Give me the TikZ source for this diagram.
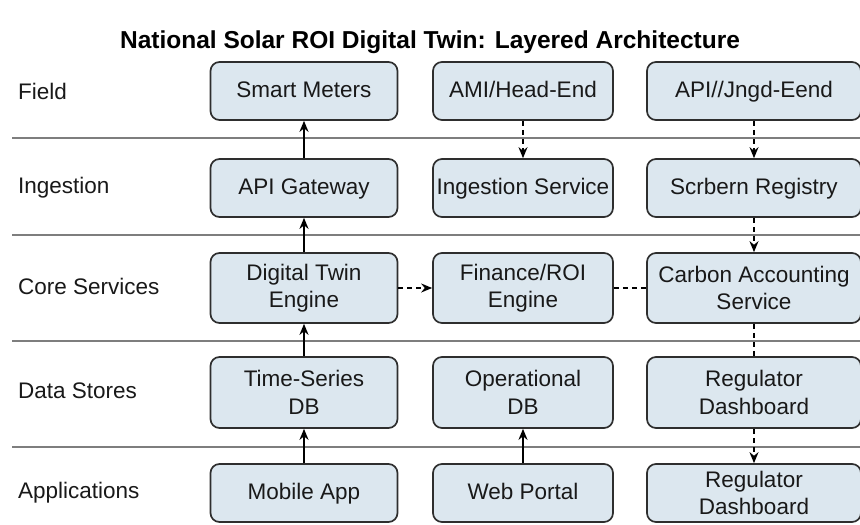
\documentclass[tikz,border=0pt]{standalone}
\usepackage{fontspec}
\setmainfont{Liberation Sans}
\usetikzlibrary{arrows.meta}
\definecolor{boxfill}{HTML}{DCE7EF}
\definecolor{boxline}{HTML}{2E2E2E}
\definecolor{sepline}{HTML}{7E7E7E}
\tikzset{
  box/.style={draw=boxline, line width=1.7pt, fill=boxfill, rounded corners=9pt,
    align=center, inner sep=0pt, font=\fontsize{22.5}{27.5}\selectfont, text=black!90},
  oneline/.style={text height=16.5pt, text depth=4.5pt},
  layer/.style={anchor=west, inner sep=0pt, font=\fontsize{22.5}{26}\selectfont, text=black!90},
  sep/.style={draw=sepline, line width=1.5pt},
  solidarrow/.style={line width=1.8pt, -{Stealth[length=11pt,width=9pt]}},
  dasharrow/.style={line width=1.5pt, dash pattern=on 5pt off 4pt, -{Stealth[length=11pt,width=9pt]}},
  dashline/.style={line width=1.5pt, dash pattern=on 5pt off 4pt}
}
\begin{document}
\begin{tikzpicture}[x=1pt,y=-1pt]
\useasboundingbox (0,0) rectangle (860,525);
\clip (0,0) rectangle (860,525);
\fill[white] (0,0) rectangle (860,525);

% title
\node[font=\bfseries\fontsize{24.5}{28}\selectfont, inner sep=0pt] (title) at (430,42) {National Solar ROI Digital Twin: Layered Architecture};

% separators
\coordinate (s1a) at (12,138); \coordinate (s1b) at (860,138);
\coordinate (s2a) at (12,235); \coordinate (s2b) at (860,235);
\coordinate (s3a) at (12,341); \coordinate (s3b) at (860,341);
\coordinate (s4a) at (12,447); \coordinate (s4b) at (860,447);
\draw[sep] (s1a) -- (s1b);
\draw[sep] (s2a) -- (s2b);
\draw[sep] (s3a) -- (s3b);
\draw[sep] (s4a) -- (s4b);

% layer labels
\node[layer] (lField) at (18,91) {Field};
\node[layer] (lIng) at (18,188) {Ingestion};
\node[layer] (lCore) at (18,286) {Core Services};
\node[layer] (lData) at (18,391) {Data Stores};
\node[layer] (lApp) at (18,493) {Applications};

% Field row (62-120)
\node[box, oneline, minimum width=187, minimum height=58] (sm) at (304,91) {Smart Meters};
\node[box, oneline, minimum width=180, minimum height=58] (ami) at (523,91) {AMI/Head-End};
\node[box, oneline, minimum width=214, minimum height=58] (api) at (754,91) {API//Jngd-Eend};

% Ingestion row (159-217)
\node[box, oneline, minimum width=187, minimum height=58] (gw) at (304,188) {API Gateway};
\node[box, oneline, minimum width=180, minimum height=58] (ing) at (523,188) {Ingestion Service};
\node[box, oneline, minimum width=214, minimum height=58] (reg) at (754,188) {Scrbern Registry};

% Core row (253-323)
\node[box, minimum width=187, minimum height=70] (dt) at (304,288) {Digital Twin\\Engine};
\node[box, minimum width=180, minimum height=70] (fin) at (523,288) {Finance/ROI\\Engine};
\node[box, minimum width=214, minimum height=70] (carb) at (754,288) {Carbon Accounting\\Service};

% Data row (357-428)
\node[box, minimum width=187, minimum height=71] (ts) at (304,392.5) {Time-Series\\DB};
\node[box, minimum width=180, minimum height=71] (op) at (523,392.5) {Operational\\DB};
\node[box, minimum width=214, minimum height=71] (rd1) at (754,392.5) {Regulator\\Dashboard};

% Applications row (464-522)
\node[box, oneline, minimum width=187, minimum height=58] (mob) at (304,493) {Mobile App};
\node[box, oneline, minimum width=180, minimum height=58] (web) at (523,493) {Web Portal};
\node[box, minimum width=214, minimum height=58] (rd2) at (754,493) {Regulator\\Dashboard};

% solid arrows (upward)
\draw[solidarrow] (gw.north) -- (sm.south);
\draw[solidarrow] (dt.north) -- (gw.south);
\draw[solidarrow] (ts.north) -- (dt.south);
\draw[solidarrow] (mob.north) -- (ts.south);
\draw[solidarrow] (web.north) -- (op.south);

% dashed connectors
\draw[dasharrow] (ami.south) -- (ing.north);
\draw[dasharrow] (api.south) -- (reg.north);
\draw[dasharrow] (reg.south) -- (carb.north);
\draw[dasharrow] (dt.east) -- (fin.west);
\draw[dashline] (fin.east) -- (carb.west);
\draw[dashline] (carb.south) -- (rd1.north);
\draw[dasharrow] (rd1.south) -- (rd2.north);
\end{tikzpicture}
\end{document}
